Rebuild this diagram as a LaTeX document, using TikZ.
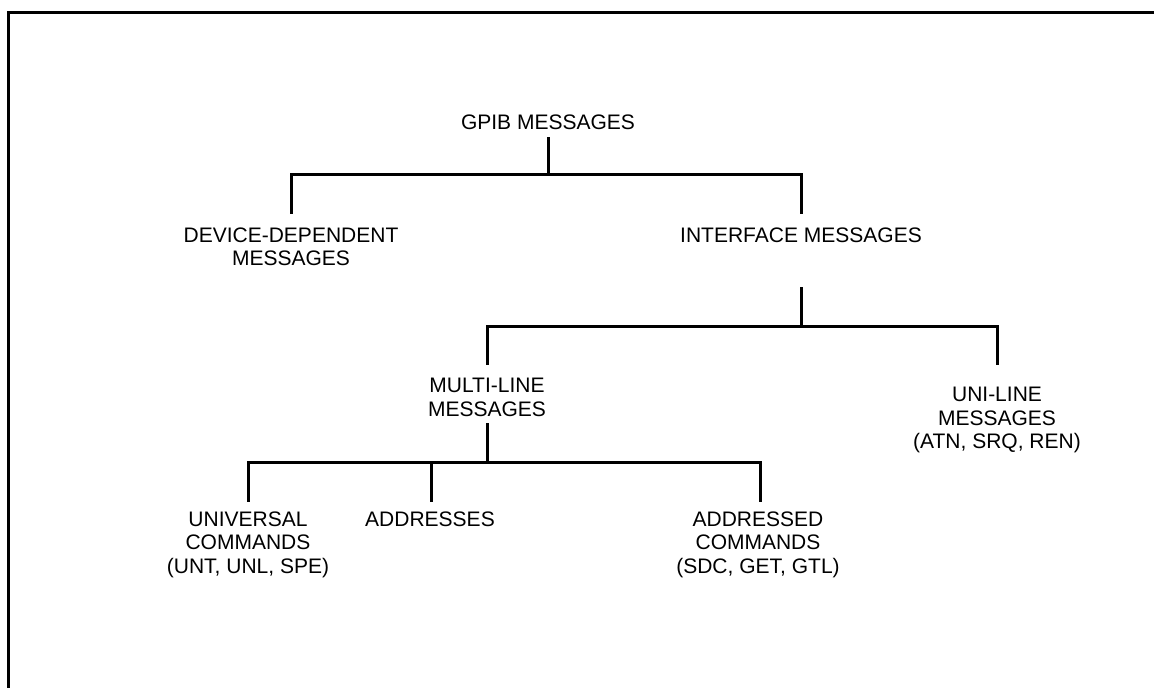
\documentclass[tikz,border=0pt]{standalone}
\usepackage{fontspec}
\setmainfont{Liberation Sans}
\begin{document}
\begin{tikzpicture}[x=1pt,y=-1pt,
  lbl/.style={inner sep=0pt,outer sep=0pt,anchor=north,align=center,
    font=\fontsize{21}{23.5}\selectfont},
  conn/.style={line width=3pt,line cap=rect},
  frameline/.style={line width=3pt}]
\useasboundingbox (0,0) rectangle (1154,688);
% frame
\coordinate (fTR) at (1160,12);
\coordinate (fTL) at (8,12);
\coordinate (fBL) at (8,695);
\draw[frameline] (fTR) -- (fTL) -- (fBL);

% labels
\node[lbl] (gpib) at (548,114.5) {GPIB MESSAGES};
\node[lbl] (dev) at (291,227.5) {DEVICE-DEPENDENT\\MESSAGES};
\node[lbl] (intf) at (801,227.5) {INTERFACE MESSAGES};
\node[lbl] (multi) at (487,378.5) {MULTI-LINE\\MESSAGES};
\node[lbl] (uni) at (997,387.5) {UNI-LINE\\MESSAGES\\(ATN, SRQ, REN)};
\node[lbl] (univ) at (248,511.5) {UNIVERSAL\\COMMANDS\\(UNT, UNL, SPE)};
\node[lbl] (addr) at (430,511.5) {ADDRESSES};
\node[lbl] (addrc) at (758,511.5) {ADDRESSED\\COMMANDS\\(SDC, GET, GTL)};

% connector end points
\coordinate (gpibS) at (548,138);
\coordinate (j1) at (548,174);
\coordinate (devN) at (291,212);
\coordinate (intfN) at (801,212);
\coordinate (intfS) at (801,288);
\coordinate (j2) at (801,326);
\coordinate (multiN) at (487,363);
\coordinate (uniN) at (997,363);
\coordinate (multiS) at (487,424);
\coordinate (j3) at (487,462);
\coordinate (univN) at (248,500);
\coordinate (addrN) at (431,500);
\coordinate (addrcN) at (760,500);

% tree
\draw[conn] (gpibS) -- (j1);
\draw[conn] (devN) |- (j1) -| (intfN);
\draw[conn] (intfS) -- (j2);
\draw[conn] (multiN) |- (j2) -| (uniN);
\draw[conn] (multiS) -- (j3);
\draw[conn] (univN) |- (j3) -| (addrcN);
\draw[conn] (addrN) -- (addrN |- j3);
\end{tikzpicture}
\end{document}
